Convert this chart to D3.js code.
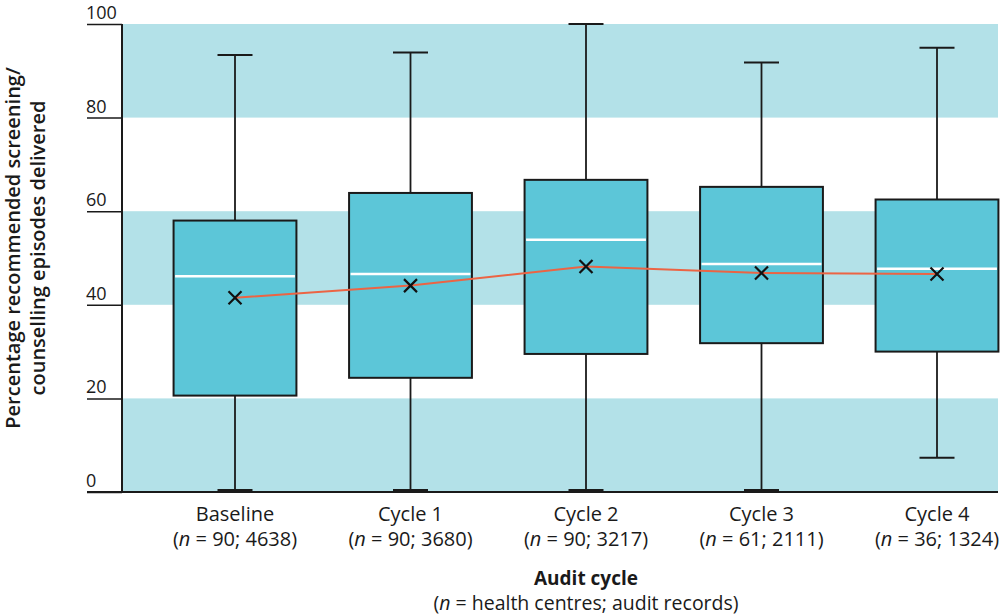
<!DOCTYPE html>
<html>
<head>
<meta charset="utf-8">
<script src="https://cdn.jsdelivr.net/npm/d3@7"></script>
<style>
  body { margin: 0; background: #fff; }
  text { font-family: "Open Sans", "Noto Sans", sans-serif; fill: #1a1a1a; }
</style>
</head>
<body>
<div id="chart"></div>
<script>
var svgWidth = 1000;
var svgHeight = 616;

// data
var categories = ["Baseline", "Cycle 1", "Cycle 2", "Cycle 3", "Cycle 4"];
var nCentres = ["90", "90", "90", "61", "36"];
var nRecords = ["4638", "3680", "3217", "2111", "1324"];
var whiskerLow = [0, 0, 0, 0, 7.3];
var q1 = [20.6, 24.4, 29.5, 31.8, 30.0];
var median = [46.1, 46.6, 53.9, 48.7, 47.7];
var q3 = [58.0, 63.9, 66.7, 65.2, 62.5];
var whiskerHigh = [93.4, 93.9, 100, 91.8, 94.9];
var means = [41.5, 44.1, 48.2, 46.8, 46.6];
var yTicks = [0, 20, 40, 60, 80, 100];
var bands = [[0, 20], [40, 60], [80, 100]];

var plotLeft = 122, plotRight = 998, plotTop = 24, plotBottom = 492;

var svg = d3.select("#chart")
  .append("svg")
  .attr("width", svgWidth)
  .attr("height", svgHeight);

var yScale = d3.scaleLinear().domain([0, 100]).range([plotBottom, plotTop]);
var xScale = d3.scalePoint().domain(categories).range([235, 937]);
var boxWidth = xScale.step() * 0.7;
var capWidth = 35;

// background bands
svg.selectAll(".band")
  .data(bands)
  .enter()
  .append("rect")
  .attr("x", plotLeft)
  .attr("width", plotRight - plotLeft)
  .attr("y", d => yScale(d[1]))
  .attr("height", d => yScale(d[0]) - yScale(d[1]))
  .attr("fill", "#b3e1e8");

// y axis
var yAxis = svg.append("g")
  .attr("transform", `translate(${plotLeft}, 0)`)
  .call(d3.axisLeft(yScale).tickValues(yTicks).tickSize(35).tickFormat(""));
yAxis.select(".domain").remove();
yAxis.selectAll(".tick line").attr("stroke", "#1a1a1a").attr("stroke-width", 1.5);
svg.append("line")
  .attr("x1", plotLeft).attr("x2", plotLeft)
  .attr("y1", plotTop).attr("y2", plotBottom)
  .attr("stroke", "#1a1a1a").attr("stroke-width", 2);
svg.selectAll(".ylabel")
  .data(yTicks)
  .enter()
  .append("text")
  .attr("x", 86)
  .attr("y", d => yScale(d) - 5)
  .attr("font-size", 18)
  .text(d => d);

// whiskers
var cats = categories.map((c, i) => i);
svg.selectAll(".whisker")
  .data(cats)
  .enter()
  .append("line")
  .attr("x1", i => xScale(categories[i]))
  .attr("x2", i => xScale(categories[i]))
  .attr("y1", i => yScale(whiskerLow[i]))
  .attr("y2", i => yScale(whiskerHigh[i]))
  .attr("stroke", "#1a1a1a").attr("stroke-width", 1.8);

svg.selectAll(".capHigh")
  .data(cats)
  .enter()
  .append("line")
  .attr("x1", i => xScale(categories[i]) - capWidth / 2)
  .attr("x2", i => xScale(categories[i]) + capWidth / 2)
  .attr("y1", i => yScale(whiskerHigh[i]))
  .attr("y2", i => yScale(whiskerHigh[i]))
  .attr("stroke", "#1a1a1a").attr("stroke-width", 2);

svg.selectAll(".capLow")
  .data(cats)
  .enter()
  .append("line")
  .attr("x1", i => xScale(categories[i]) - capWidth / 2)
  .attr("x2", i => xScale(categories[i]) + capWidth / 2)
  .attr("y1", i => yScale(whiskerLow[i]) - (whiskerLow[i] === 0 ? 1.5 : 0))
  .attr("y2", i => yScale(whiskerLow[i]) - (whiskerLow[i] === 0 ? 1.5 : 0))
  .attr("stroke", "#1a1a1a").attr("stroke-width", i => whiskerLow[i] === 0 ? 3 : 2);

// boxes
svg.selectAll(".box")
  .data(cats)
  .enter()
  .append("rect")
  .attr("x", i => xScale(categories[i]) - boxWidth / 2)
  .attr("width", boxWidth)
  .attr("y", i => yScale(q3[i]))
  .attr("height", i => yScale(q1[i]) - yScale(q3[i]))
  .attr("fill", "#5cc6d8")
  .attr("stroke", "#1a1a1a").attr("stroke-width", 2);

// medians
svg.selectAll(".median")
  .data(cats)
  .enter()
  .append("line")
  .attr("x1", i => xScale(categories[i]) - boxWidth / 2 + 1.5)
  .attr("x2", i => xScale(categories[i]) + boxWidth / 2 - 1.5)
  .attr("y1", i => yScale(median[i]))
  .attr("y2", i => yScale(median[i]))
  .attr("stroke", "#ffffff").attr("stroke-width", 2.5);

// bottom axis line
svg.append("line")
  .attr("x1", 87).attr("x2", plotRight)
  .attr("y1", plotBottom).attr("y2", plotBottom)
  .attr("stroke", "#1a1a1a").attr("stroke-width", 2);

// mean line
var meanLine = d3.line()
  .x(i => xScale(categories[i]))
  .y(i => yScale(means[i]));
svg.append("path")
  .datum(cats)
  .attr("d", meanLine)
  .attr("fill", "none")
  .attr("stroke", "#ec6444")
  .attr("stroke-width", 2);

// mean markers (x)
var m = 6.5;
svg.selectAll(".mean")
  .data(cats)
  .enter()
  .append("path")
  .attr("d", i => {
    var cx = xScale(categories[i]), cy = yScale(means[i]);
    return `M${cx - m},${cy - m}L${cx + m},${cy + m}M${cx - m},${cy + m}L${cx + m},${cy - m}`;
  })
  .attr("stroke", "#111").attr("stroke-width", 2.2);

// x labels
var xLab = svg.selectAll(".xlab")
  .data(cats)
  .enter()
  .append("text")
  .attr("text-anchor", "middle")
  .attr("font-size", 20);
xLab.append("tspan")
  .attr("x", i => xScale(categories[i]))
  .attr("y", 521)
  .text(i => categories[i]);
var sub = xLab.append("tspan")
  .attr("x", i => xScale(categories[i]))
  .attr("y", 546);
sub.append("tspan").text("(");
sub.append("tspan").attr("font-style", "italic").text("n");
sub.append("tspan").text(i => " = " + nCentres[i] + "; " + nRecords[i] + ")");

// x axis title
svg.append("text")
  .attr("x", 586).attr("y", 585)
  .attr("text-anchor", "middle")
  .attr("font-size", 19)
  .attr("font-weight", 700)
  .text("Audit cycle");
var xt = svg.append("text")
  .attr("x", 586).attr("y", 610)
  .attr("text-anchor", "middle")
  .attr("font-size", 19.5);
xt.append("tspan").text("(");
xt.append("tspan").attr("font-style", "italic").text("n");
xt.append("tspan").text(" = health centres; audit records)");

// y axis title
var yt = svg.append("text")
  .attr("transform", "translate(0, 248) rotate(-90)")
  .attr("text-anchor", "middle")
  .attr("font-size", 20)
  .attr("font-weight", 600);
yt.append("tspan").attr("x", 0).attr("y", 20).text("Percentage recommended screening/");
yt.append("tspan").attr("x", 0).attr("y", 45).text("counselling episodes delivered");
</script>
</body>
</html>
